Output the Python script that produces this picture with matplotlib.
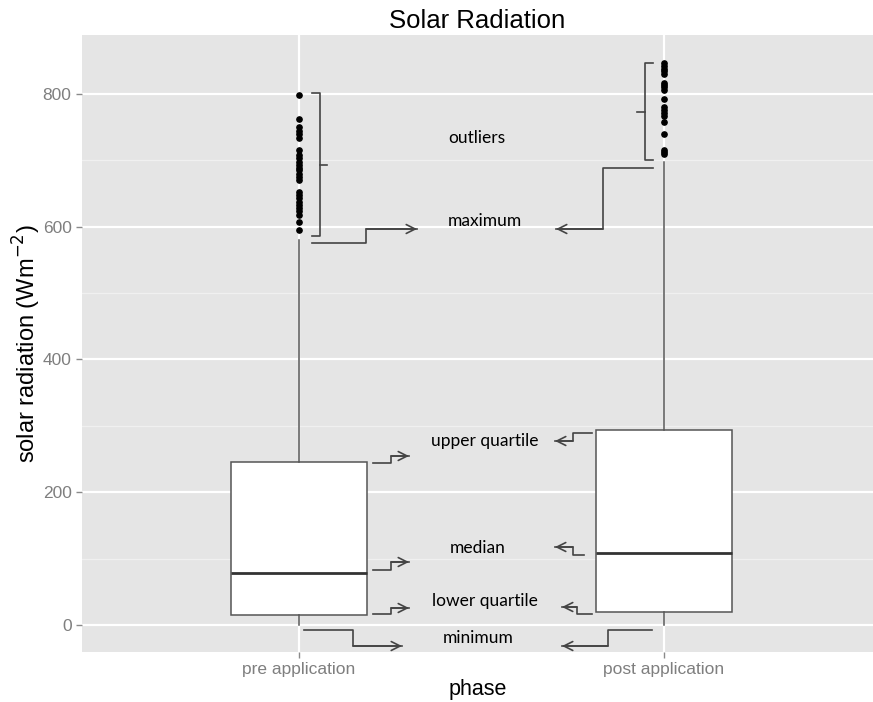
import matplotlib
matplotlib.use("Agg")
import matplotlib.pyplot as plt
from matplotlib.transforms import Affine2D
import numpy as np

# ---- data ----
phases = ["pre application", "post application"]
q1 = [15, 20]
median = [79, 109]
q3 = [245, 294]
whisker_low = [0, 0]
whisker_high = [580, 698]
outliers_pre = [798, 763, 750, 745, 740, 734, 715, 708, 703, 698, 693, 689, 685,
                680, 675, 671, 653, 648, 643, 638, 633, 628, 623, 618, 607, 595]
outliers_post = [846, 842, 838, 835, 830, 817, 813, 810, 806, 793, 780, 776, 772,
                 767, 758, 739, 716, 713, 709]
y_ticks = [0, 200, 400, 600, 800]
y_minor = [100, 300, 500, 700]

W, H = 873, 702
fig = plt.figure(figsize=(W / 100, H / 100), dpi=100)
ax = fig.add_axes([82 / W, 1 - 652 / H, 1 - 82 / W, (652 - 35) / H])
ax.set_facecolor("#E5E5E5")
for s in ax.spines.values():
    s.set_visible(False)

ax.set_xlim(0.4055, 2.5726)
ax.set_ylim(-40.7, 888.9)

# grid
for v in y_minor:
    ax.axhline(v, color="#F0F0F0", lw=0.9, zorder=0)
for v in y_ticks:
    ax.axhline(v, color="white", lw=1.6, zorder=0)
for v in [1, 2]:
    ax.axvline(v, color="white", lw=1.6, zorder=0)

stats = []
fl = [outliers_pre, outliers_post]
for i in range(2):
    stats.append(dict(med=median[i], q1=q1[i], q3=q3[i], whislo=whisker_low[i],
                      whishi=whisker_high[i], fliers=fl[i], label=phases[i]))
ax.bxp(stats, positions=[1, 2], widths=0.373, showcaps=False, patch_artist=True,
       boxprops=dict(facecolor="white", edgecolor="#555555", lw=1.1),
       whiskerprops=dict(color="#555555", lw=1.1),
       medianprops=dict(color="#333333", lw=2.0),
       flierprops=dict(marker="o", markerfacecolor="black", markeredgecolor="black",
                       markersize=3.8, linestyle="none"))

ax.set_xticks([1, 2])
ax.set_xticklabels(phases)
ax.set_yticks(y_ticks)
ax.set_yticklabels([str(v) for v in y_ticks])
ax.tick_params(axis="both", colors="#8A8A8A", labelcolor="#7F7F7F", length=4,
               width=1, labelsize=12.5)
for lab in ax.get_xticklabels() + ax.get_yticklabels():
    lab.set_family("Liberation Sans")

ax.set_xlabel("phase", fontsize=15.5, family="Liberation Sans", labelpad=1)
ax.set_ylabel("solar radiation (Wm$^{-2}$)", fontsize=17, family="Liberation Sans",
              labelpad=-0.5)
ax.set_title("Solar Radiation", fontsize=18.5, family="Liberation Sans", pad=5)

# ---- annotations in image pixel coordinates ----
pix = Affine2D().scale(1 / W, -1 / H).translate(0, 1) + fig.transFigure
lc = "#444444"

def path(pts, arrow=False):
    xs = [p[0] for p in pts]
    ys = [p[1] for p in pts]
    fig.add_artist(plt.Line2D(xs, ys, color=lc, lw=1.2, transform=pix))
    if arrow:
        ax.annotate("", xy=pts[-1], xycoords=pix, xytext=pts[-2], textcoords=pix,
                    arrowprops=dict(arrowstyle="->", color=lc, lw=1.2,
                                    mutation_scale=16, shrinkA=0, shrinkB=0),
                    annotation_clip=False)

# braces
path([(312, 93), (320, 93), (320, 236), (312, 236)])
path([(320, 165), (327, 165)])
path([(653, 63), (645, 63), (645, 160), (653, 160)])
path([(645, 112), (637, 112)])
# pre side arrows
path([(312, 243), (366, 243), (366, 229), (417, 229)], arrow=True)
path([(373, 463), (391, 463), (391, 456), (409, 456)], arrow=True)
path([(373, 570), (391, 570), (391, 562), (409, 562)], arrow=True)
path([(373, 614), (391, 614), (391, 608), (409, 608)], arrow=True)
path([(304, 630), (353, 630), (353, 646), (402, 646)], arrow=True)
# post side arrows
path([(653, 168), (603, 168), (603, 229), (556, 229)], arrow=True)
path([(592, 433), (573, 433), (573, 441), (555, 441)], arrow=True)
path([(584, 555), (573, 555), (573, 547), (555, 547)], arrow=True)
path([(592, 614), (577, 614), (577, 607), (562, 607)], arrow=True)
path([(652, 630), (608, 630), (608, 646), (562, 646)], arrow=True)

labels = ["outliers", "maximum", "upper quartile", "median", "lower quartile", "minimum"]
label_pos = [(477, 138), (485, 221), (485, 441), (478, 548), (485, 601), (478, 638)]
for t, (x, y) in zip(labels, label_pos):
    fig.text(x, y, t, transform=pix, ha="center", va="center", fontsize=12.5,
             family="Lato", color="black")

fig.savefig("out.png", dpi=100)
